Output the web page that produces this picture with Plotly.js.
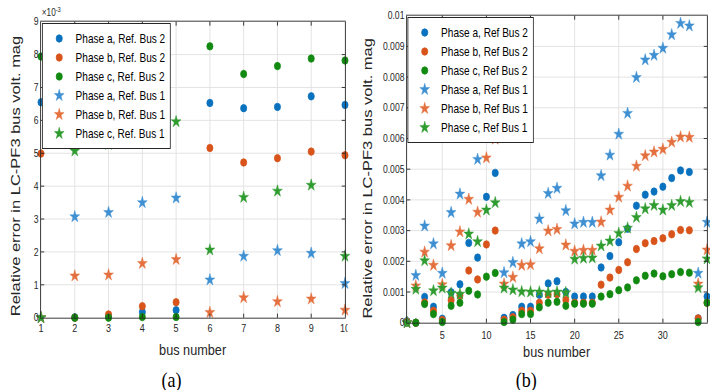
<!DOCTYPE html>
<html>
<head>
<meta charset="utf-8">
<script src="https://cdn.plot.ly/plotly-3.0.1.min.js"></script>
<style>
html,body{margin:0;padding:0;background:#fff;overflow:hidden;width:710px;height:390px;}
#wrap{width:710px;height:390px;overflow:hidden;position:relative;}
#chart{width:866px;height:390px;transform:scaleX(0.81986);transform-origin:0 0;position:absolute;left:0;top:0;}
</style>
</head>
<body>
<div id="wrap"><div id="chart"></div></div>
<script>
// ---------- Panel (a): buses 1..10, values in units of 1e-3 ----------
var busA = [1, 2, 3, 4, 5, 6, 7, 8, 9, 10];
var a_ref2_A = [6.55, 0.01, 0.05, 0.17, 0.23, 6.53, 6.37, 6.41, 6.73, 6.47];
var b_ref2_A = [4.99, 0.00, 0.10, 0.35, 0.47, 5.16, 4.72, 4.85, 5.05, 4.94];
var c_ref2_A = [7.94, 0.00, 0.00, 0.02, 0.02, 8.25, 7.41, 7.65, 7.88, 7.82];
var a_ref1_A = [0.00, 3.07, 3.20, 3.50, 3.64, 1.15, 1.87, 2.04, 1.96, 1.04];
var b_ref1_A = [0.00, 1.27, 1.30, 1.65, 1.77, 0.16, 0.61, 0.49, 0.57, 0.23];
var c_ref1_A = [0.00, 5.07, 5.27, 5.60, 5.96, 2.06, 3.66, 3.85, 4.03, 1.87];

// ---------- Panel (b): buses 1..35 ----------
var busB = [];
for (var i = 1; i <= 35; i++) busB.push(i);
var a_ref2_B = [0.00005,0,0.00084,0.00052,0.00013,0.00099,0.00125,0.0026,0.00212,0.0041,0.00488,0.00016,0.00025,0.00052,0.00052,0.00091,0.00128,0.00135,0.0010,0.00085,0.00085,0.00085,0.0018,0.00217,0.00262,0.00306,0.00381,0.00417,0.00427,0.00443,0.00471,0.00496,0.00491,0.00014,0.00085];
var b_ref2_B = [0.00003,0,0.00066,0.00039,0.00009,0.00073,0.00089,0.0017,0.00141,0.00255,0.0030,0.0001,0.00018,0.00039,0.00039,0.00065,0.00091,0.00093,0.00074,0.00065,0.00065,0.00065,0.00124,0.00147,0.00172,0.00197,0.0024,0.00259,0.00266,0.00275,0.00288,0.00302,0.00301,0.00014,0.00065];
var c_ref2_B = [0,0,0.00061,0.00028,0.00002,0.00055,0.00065,0.00104,0.00092,0.0015,0.00162,0.00002,0.0001,0.00028,0.00028,0.0005,0.00065,0.00068,0.00055,0.00062,0.00062,0.00062,0.00085,0.00093,0.00106,0.00115,0.00138,0.00153,0.0016,0.00151,0.00158,0.00165,0.00163,0.00002,0.00065];
var a_ref1_B = [0,0.00154,0.00315,0.00257,0.00161,0.00359,0.00419,0.00608,0.00532,0.0078,0.0087,0.00163,0.00196,0.00257,0.00264,0.00338,0.00421,0.00438,0.00365,0.00322,0.00327,0.00327,0.00479,0.00546,0.00614,0.00682,0.00799,0.00856,0.00871,0.00894,0.00938,0.00975,0.00967,0.00161,0.00327];
var b_ref1_B = [0,0.0012,0.0023,0.00187,0.00124,0.00251,0.00296,0.00402,0.0036,0.00537,0.00598,0.00126,0.00148,0.00187,0.00189,0.00241,0.00299,0.00304,0.00253,0.00233,0.00236,0.00236,0.00328,0.00367,0.00409,0.00445,0.0051,0.00544,0.00556,0.00565,0.00588,0.00605,0.00604,0.00126,0.00237];
var c_ref1_B = [0,0.00109,0.00202,0.00104,0.00113,0.00096,0.00093,0.00289,0.00264,0.00367,0.00391,0.00113,0.00107,0.00101,0.001,0.001,0.00098,0.001,0.00098,0.00207,0.0021,0.00211,0.0025,0.00266,0.00291,0.00308,0.00343,0.00371,0.00382,0.00367,0.00382,0.00395,0.00392,0.00114,0.00208];

var namesA = ['Phase a, Ref. Bus 2','Phase b, Ref. Bus 2','Phase c, Ref. Bus 2','Phase a, Ref. Bus 1','Phase b, Ref. Bus 1','Phase c, Ref. Bus 1'];
var namesB = ['Phase a, Ref Bus 2','Phase b, Ref Bus 2','Phase c, Ref Bus 2','Phase a, Ref Bus 1','Phase b, Ref Bus 1','Phase c, Ref Bus 1'];
var xTicksB = [5, 10, 15, 20, 25, 30, 35];

var circColors = ['#0A71BE', '#D9541A', '#128A12'];
var starColors = ['#3F90D2', '#E4703F', '#2F9C2F'];

var SANS = '"Liberation Sans", Arial, Helvetica, sans-serif';
var SERIF = '"Liberation Serif", "Times New Roman", serif';

function mk(x, y, name, idx, isStar, xa, ya, leg) {
  var col = isStar ? starColors[idx] : circColors[idx];
  return {
    type: 'scatter', mode: 'markers', x: x, y: y, name: name,
    xaxis: xa, yaxis: ya, legend: leg, cliponaxis: false,
    marker: isStar
      ? {symbol: 'star', size: 9, color: col, line: {color: col, width: 0.5}}
      : {symbol: 'circle', size: 7.5, color: col, line: {color: col, width: 0.8}},
    hoverinfo: 'x+y+name'
  };
}

var seriesA = [a_ref2_A, b_ref2_A, c_ref2_A, a_ref1_A, b_ref1_A, c_ref1_A];
var seriesB = [a_ref2_B, b_ref2_B, c_ref2_B, a_ref1_B, b_ref1_B, c_ref1_B];
var data = [];
for (var k = 0; k < 6; k++) data.push(mk(busA, seriesA[k], namesA[k], k % 3, k >= 3, 'x', 'y', 'legend'));
for (var k2 = 0; k2 < 6; k2++) data.push(mk(busB, seriesB[k2], namesB[k2], k2 % 3, k2 >= 3, 'x2', 'y2', 'legend2'));

// final picture is 710x390; the chart is drawn 866 wide and squeezed horizontally
var W = 710, H = 390, W0 = 866;
function px(v) { return v / W; }
function py(v) { return 1 - v / H; }

var axisCommon = {
  showline: true, linecolor: '#262626', linewidth: 1, mirror: 'ticks',
  ticks: 'inside', ticklen: 4, tickcolor: '#262626', tickwidth: 1,
  showgrid: true, gridcolor: '#e0e0e0', gridwidth: 1, zeroline: false,
  tickfont: {family: SANS, size: 11, color: '#262626'}, fixedrange: true
};
function ax(extra) { return Object.assign({}, axisCommon, extra); }
var yTickFont = {family: SANS, size: 10.5, color: '#262626'};

var legendCommon = {
  bgcolor: '#ffffff', bordercolor: '#262626', borderwidth: 1,
  font: {family: SANS, size: 12.3, color: '#000000'},
  xanchor: 'left', yanchor: 'top', itemwidth: 30, tracegroupgap: 0
};

var layout = {
  width: W0, height: H,
  margin: {l: 0, r: 0, t: 0, b: 0, pad: 0},
  paper_bgcolor: '#ffffff', plot_bgcolor: '#ffffff',
  font: {family: SANS, color: '#262626'},
  showlegend: true,
  xaxis: ax({domain: [px(41), px(345)], range: [1, 10], tickmode: 'linear', tick0: 1, dtick: 1, anchor: 'y'}),
  yaxis: ax({domain: [py(317.7), py(21.7)], range: [0, 9], tickmode: 'linear', tick0: 0, dtick: 1, anchor: 'x', tickfont: yTickFont}),
  xaxis2: ax({domain: [px(407), px(707)], range: [1, 35], tickmode: 'array', tickvals: xTicksB, anchor: 'y2', ticklabelstandoff: 2}),
  yaxis2: ax({domain: [py(322.7), py(15.7)], range: [0, 0.01], tickmode: 'linear', tick0: 0, dtick: 0.001, anchor: 'x2', tickfont: yTickFont}),
  legend: Object.assign({}, legendCommon, {x: px(42), y: py(23)}),
  legend2: Object.assign({}, legendCommon, {x: px(407.5), y: py(17)}),
  shapes: [
    {type: 'rect', xref: 'paper', yref: 'paper', x0: px(347.5), x1: px(362), y0: py(340), y1: py(322),
     fillcolor: '#ffffff', line: {width: 0}, layer: 'above'}
  ],
  annotations: [
    {text: 'Relative error in LC-PF3 bus volt. mag', xref: 'paper', yref: 'paper', x: px(15), y: py(176),
     textangle: -90, showarrow: false, xanchor: 'center', yanchor: 'middle', font: {family: SANS, size: 16.5, color: '#262626'}},
    {text: 'Relative error in LC-PF3 bus volt. mag', xref: 'paper', yref: 'paper', x: px(367), y: py(178),
     textangle: -90, showarrow: false, xanchor: 'center', yanchor: 'middle', font: {family: SANS, size: 16.5, color: '#262626'}},
    {text: 'bus number', xref: 'paper', yref: 'paper', x: px(193), y: py(339), showarrow: false,
     xanchor: 'center', yanchor: 'top', font: {family: SANS, size: 15.5, color: '#262626'}},
    {text: 'bus number', xref: 'paper', yref: 'paper', x: px(557), y: py(341), showarrow: false,
     xanchor: 'center', yanchor: 'top', font: {family: SANS, size: 15.5, color: '#262626'}},
    {text: '\u00d710<sup>-3</sup>', xref: 'paper', yref: 'paper', x: px(40), y: py(20), showarrow: false,
     xanchor: 'left', yanchor: 'bottom', font: {family: SANS, size: 10, color: '#262626'}},
    {text: '(a)', xref: 'paper', yref: 'paper', x: px(171), y: py(379), showarrow: false,
     xanchor: 'center', yanchor: 'middle', font: {family: SERIF, size: 22, color: '#000000'}},
    {text: '(b)', xref: 'paper', yref: 'paper', x: px(526), y: py(379), showarrow: false,
     xanchor: 'center', yanchor: 'middle', font: {family: SERIF, size: 22, color: '#000000'}}
  ]
};

Plotly.newPlot('chart', data, layout, {displayModeBar: false, staticPlot: true});
</script>
</body>
</html>
